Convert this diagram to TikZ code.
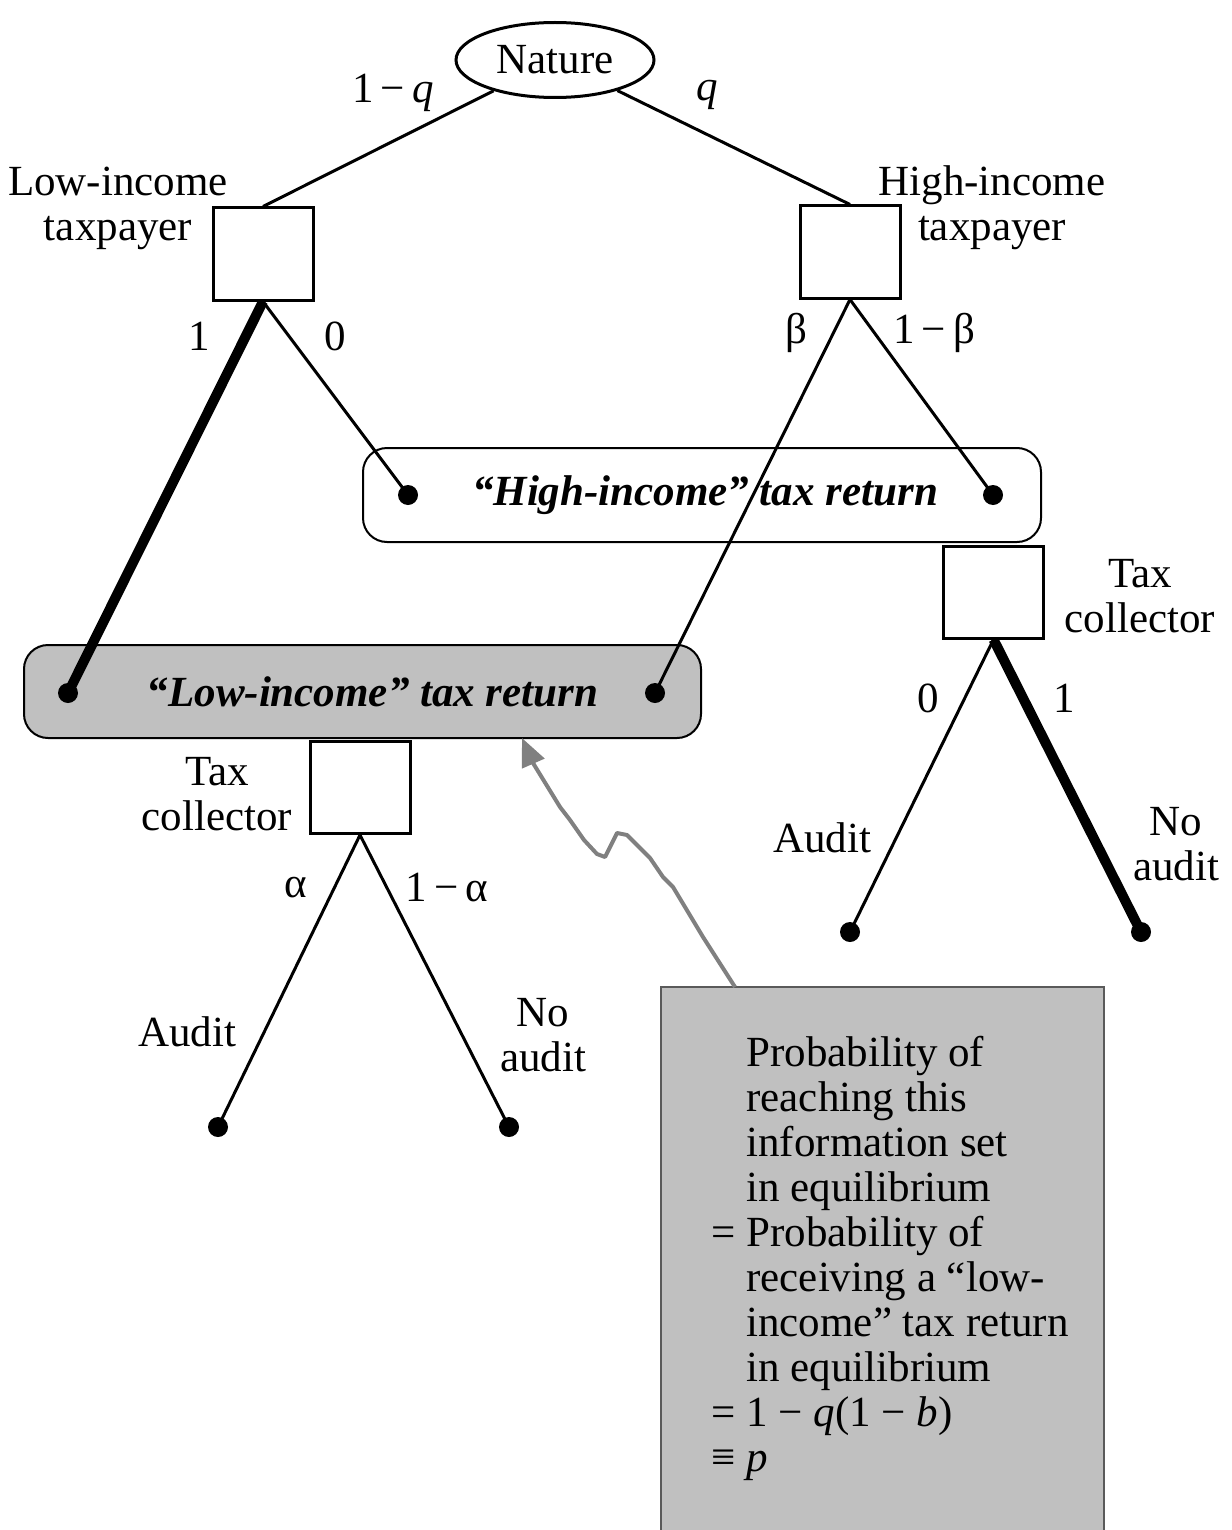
\documentclass[tikz,border=0pt]{standalone}
\usepackage{fontspec}
\setmainfont{Liberation Serif}
\usetikzlibrary{shapes.geometric,arrows.meta}
\definecolor{boxgrey}{RGB}{192,192,192}
\definecolor{arrowgrey}{RGB}{128,128,128}
\definecolor{edgegrey}{RGB}{90,90,90}
\begin{document}
\begin{tikzpicture}[x=0.5pt,y=-0.5pt,
  every node/.style={font=\fontsize{21.5}{22.5}\selectfont},
  sq/.style={draw,line width=1.5pt,minimum width=50pt,minimum height=46pt,inner sep=0pt,fill=white},
  br/.style={line width=1.5pt},
  thk/.style={line width=5pt},
  dot/.style={circle,fill=black,inner sep=0pt,minimum size=10pt},
  lbl/.style={inner sep=0pt,align=center},
  iset/.style={draw,line width=1pt,rounded corners=12pt,minimum width=339pt,minimum height=47pt,inner sep=0pt}]
\path[use as bounding box] (0,0) rectangle (1231,1530);

% Nature
\node[ellipse,draw,line width=1.5pt,minimum width=99pt,minimum height=37.5pt,inner sep=0pt] (nat) at (555,60) {Nature};

% taxpayers
\node[sq] (lt) at (263,254) {};
\node[sq] (ht) at (850,252) {};
\draw[br] (nat) -- (lt.north);
\draw[br] (nat) -- (ht.north);
\node[lbl] at (393,93) {1\,−\,\textit{q}};
\node[lbl] at (707,95) {\textit{q}};
\node[lbl] at (118,208) {Low-income\\taxpayer};
\node[lbl] at (992,208) {High-income\\taxpayer};

% information sets
\node[iset,fill=white] (hs) at (702,495) {\hspace*{3pt}\textbf{\textit{“High-income” tax return}}};
\node[iset,fill=boxgrey,minimum width=338.5pt,minimum height=46.5pt] (ls) at (362.5,691.5) {\hspace*{10pt}\textbf{\textit{“Low-income” tax return}}};

\node[dot] (h1) at (408,495) {};
\node[dot] (h2) at (993,495) {};
\node[dot] (l1) at (68,693) {};
\node[dot] (l2) at (655,693) {};

\draw[thk] (lt.south) -- (l1.center);
\draw[br] (lt.south) -- (h1.center);
\draw[br] (ht.south) -- (l2.center);
\draw[br] (ht.south) -- (h2.center);
\node[lbl] at (199,336) {1};
\node[lbl] at (335,336) {0};
\node[lbl] at (796,333) {β};
\node[lbl] at (934,333) {1\,−\,β};

% right tax collector
\node[sq] (rc) at (993.5,592) {};
\node[lbl] at (1140,596) {Tax\\collector};
\node[dot] (ra) at (850,932) {};
\node[dot] (rn) at (1141,932) {};
\draw[br] (rc.south) -- (ra.center);
\draw[thk] (rc.south) -- (rn.center);
\node[lbl] at (928,698) {0};
\node[lbl] at (1064,698) {1};
\node[lbl] at (822,838) {Audit};
\node[lbl] at (1176,844) {No\\audit};

% left tax collector
\node[sq] (lc) at (360,787.5) {};
\node[lbl] at (217,794) {Tax\\collector};
\node[dot] (la) at (218,1127) {};
\node[dot] (ln) at (509,1127) {};
\draw[br] (lc.south) -- (la.center);
\draw[br] (lc.south) -- (ln.center);
\node[lbl] at (296,888) {α};
\node[lbl] at (447,888) {1\,−\,α};
\node[lbl] at (187,1032) {Audit};
\node[lbl] at (543,1035) {No\\audit};

% note box
\node[fill=boxgrey,minimum width=221pt,minimum height=271.5pt,inner sep=0pt,anchor=north west] (note) at (661,987) {};
\draw[edgegrey,line width=1pt] (note.south west) -- (note.north west) -- (note.north east) -- (note.south east);
\node[inner sep=0pt,align=left,anchor=base west] (notetext) at (701,1471) {%
\hspace*{22.5pt}Probability of\\
\hspace*{22.5pt}reaching this\\
\hspace*{22.5pt}information set\\
\hspace*{22.5pt}in equilibrium\\
\makebox[22.5pt]{=}Probability of\\
\hspace*{22.5pt}receiving a “low-\\
\hspace*{22.5pt}income” tax return\\
\hspace*{22.5pt}in equilibrium\\
\makebox[22.5pt]{=}1 − \textit{q}(1 − \textit{b})\\
\makebox[22.5pt]{≡}\textit{p}};

% squiggly pointer
\coordinate (ntop) at (735,987);
\coordinate (atip) at (522,738);
\draw[arrowgrey,line width=2pt,line join=round,-{Triangle[length=14pt,width=12pt]}]
  (ntop) -- (703,937) -- (673,887) -- (663,877) -- (650,858) -- (627,835) -- (617,833)
  -- (610,847) -- (605,857) -- (597,854) -- (584,840) -- (570,820) -- (560,807) -- (533,763) -- (atip);
\end{tikzpicture}
\end{document}
